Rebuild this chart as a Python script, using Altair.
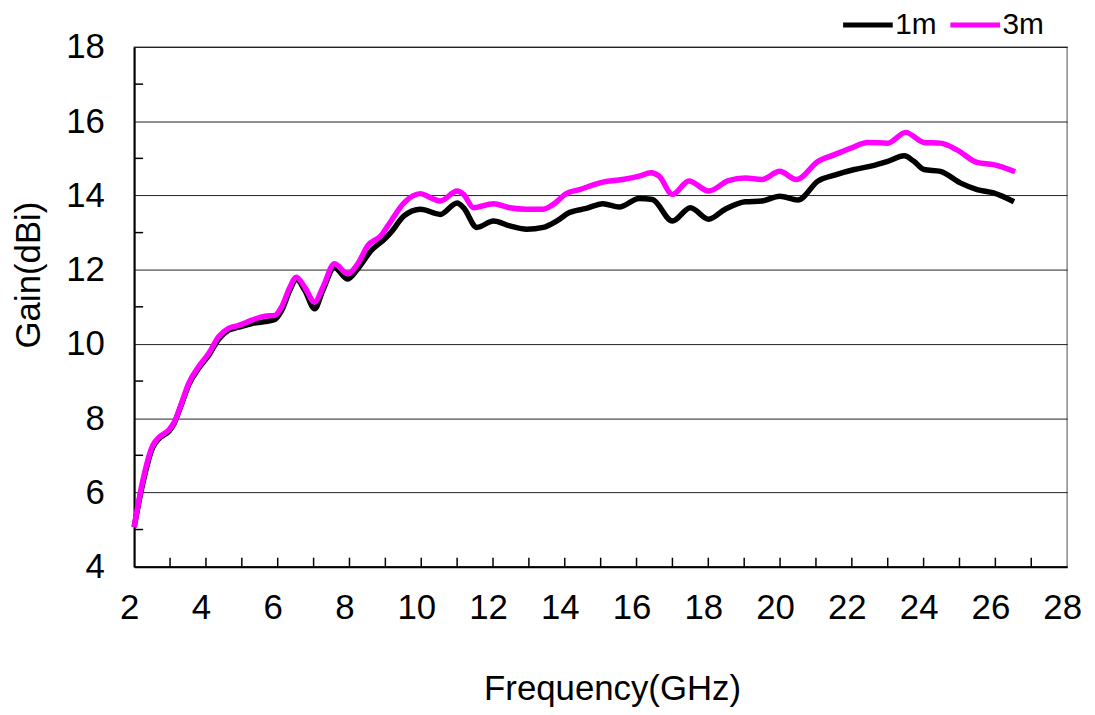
import altair as alt
import pandas as pd

# 1m series
freq_1m = [2.0, 2.23, 2.51, 2.69, 2.97, 3.11, 3.29, 3.52, 3.80, 4.08, 4.35, 4.63, 4.91, 5.28, 5.64,
           5.92, 6.11, 6.34, 6.52, 6.75, 7.03, 7.26, 7.58, 7.95, 8.23, 8.60, 8.97, 9.15, 9.52, 9.98,
           10.53, 11.0, 11.18, 11.55, 12.01, 12.47, 12.94, 13.40, 13.77, 14.13, 14.60, 15.06, 15.52,
           16.07, 16.44, 17.0, 17.50, 18.01, 18.47, 19.03, 19.49, 19.99, 20.50, 21.06, 21.52, 22.07,
           22.53, 23.0, 23.46, 23.73, 24.01, 24.47, 25.02, 25.49, 25.95, 26.52]
gain_1m = [5.07, 6.2, 7.2, 7.45, 7.65, 7.85, 8.3, 8.9, 9.35, 9.7, 10.12, 10.37, 10.45, 10.55, 10.6,
           10.66, 10.9, 11.45, 11.75, 11.45, 10.95, 11.45, 12.06, 11.75, 12.02, 12.51, 12.82, 13.0,
           13.45, 13.63, 13.49, 13.80, 13.67, 13.14, 13.31, 13.18, 13.09, 13.14, 13.31, 13.54, 13.65,
           13.78, 13.69, 13.92, 13.89, 13.31, 13.67, 13.36, 13.63, 13.83, 13.85, 13.98, 13.88, 14.39,
           14.55, 14.70, 14.79, 14.92, 15.07, 14.92, 14.70, 14.65, 14.34, 14.16, 14.07, 13.83]

# 3m series
freq_3m = [2.0, 2.23, 2.51, 2.69, 2.97, 3.11, 3.29, 3.52, 3.80, 4.08, 4.35, 4.63, 4.91, 5.28, 5.64,
           5.92, 6.11, 6.34, 6.52, 6.75, 7.03, 7.26, 7.58, 7.95, 8.23, 8.51, 8.87, 9.15, 9.52, 9.98,
           10.26, 10.53, 11.0, 11.18, 11.46, 12.01, 12.47, 12.94, 13.40, 13.68, 14.04, 14.41, 15.06,
           15.61, 16.07, 16.40, 16.63, 17.0, 17.46, 18.01, 18.56, 19.03, 19.49, 19.99, 20.46, 21.06,
           21.52, 21.98, 22.44, 23.0, 23.50, 24.01, 24.47, 24.93, 25.49, 25.95, 26.55]
gain_3m = [5.07, 6.27, 7.25, 7.48, 7.69, 7.88, 8.32, 8.94, 9.39, 9.75, 10.19, 10.42, 10.50, 10.64,
           10.75, 10.77, 11.0, 11.53, 11.80, 11.53, 11.13, 11.53, 12.16, 11.89, 12.16, 12.65, 12.91,
           13.3, 13.80, 14.05, 13.94, 13.85, 14.12, 14.03, 13.67, 13.78, 13.67, 13.63, 13.63, 13.76,
           14.05, 14.16, 14.36, 14.43, 14.52, 14.61, 14.52, 14.03, 14.39, 14.12, 14.40, 14.47, 14.43,
           14.65, 14.43, 14.92, 15.10, 15.28, 15.43, 15.41, 15.70, 15.43, 15.41, 15.23, 14.89, 14.83,
           14.64]

series_names = ["1m", "3m"]
series_colors = ["#000000", "#FF00FF"]

x_labels = [2, 4, 6, 8, 10, 12, 14, 16, 18, 20, 22, 24, 26, 28]
y_labels = [4, 6, 8, 10, 12, 14, 16, 18]
x_minor = list(range(3, 28))
y_minor = [5, 7, 9, 11, 13, 15, 17]

df = pd.concat([
    pd.DataFrame({"Frequency": freq_1m, "Gain": gain_1m, "Series": "1m"}),
    pd.DataFrame({"Frequency": freq_3m, "Gain": gain_3m, "Series": "3m"}),
])

FONT = "Liberation Sans"
W, H = 939, 523

xscale = alt.Scale(domain=[2, 28], nice=False, zero=False)
yscale = alt.Scale(domain=[4, 18], nice=False, zero=False)

lines = alt.Chart(df).mark_line(strokeWidth=5.5, interpolate="monotone").encode(
    x=alt.X("Frequency:Q", scale=xscale,
            axis=alt.Axis(values=x_labels, title="Frequency(GHz)", grid=False, ticks=False,
                          tickSize=0, domainColor="#000000", domainWidth=2,
                          labelFont=FONT, labelFontSize=35, labelColor="#000000",
                          labelPadding=24, labelOffset=-5, labelFlush=False,
                          titleFont=FONT, titleFontSize=35, titleFontWeight="normal",
                          titleColor="#000000", titleX=481, titleY=106, titleBaseline="top")),
    y=alt.Y("Gain:Q", scale=yscale,
            axis=alt.Axis(values=y_labels, title="Gain(dBi)", grid=True, gridColor="#222222",
                          gridWidth=1, ticks=False, tickSize=0, domainColor="#000000",
                          domainWidth=2, labelFont=FONT, labelFontSize=35,
                          labelColor="#000000", labelPadding=30, labelFlush=False,
                          titleFont=FONT, titleFontSize=35, titleFontWeight="normal",
                          titleColor="#000000", titleX=-88, titleY=229)),
    color=alt.Color("Series:N", scale=alt.Scale(domain=series_names, range=series_colors),
                    legend=alt.Legend(title=None, orient="none", legendX=711, legendY=-50,
                                      direction="horizontal", symbolType="stroke",
                                      symbolSize=2500, symbolStrokeWidth=5,
                                      labelFont=FONT, labelFontSize=30, labelColor="#000000",
                                      labelOffset=0, columnPadding=3, padding=0)),
)

xticks = alt.Chart(pd.DataFrame({"f": x_minor})).mark_rule(color="#000000", strokeWidth=1.5).encode(
    x=alt.X("f:Q", scale=xscale), y=alt.value(H), y2=alt.value(H - 9))

yticks = alt.Chart(pd.DataFrame({"g": y_minor})).mark_rule(color="#000000", strokeWidth=1.5).encode(
    y=alt.Y("g:Q", scale=yscale), x=alt.value(0), x2=alt.value(9))

chart = alt.layer(xticks, yticks, lines).properties(
    width=W, height=H,
    autosize=alt.AutoSizeParams(type="none"),
    padding={"left": 127, "top": 37, "right": 20, "bottom": 140},
    background="#FFFFFF",
).configure_view(stroke="#888888", strokeWidth=1.5)

chart.save("out.html", embed_options={"renderer": "svg", "actions": False})
